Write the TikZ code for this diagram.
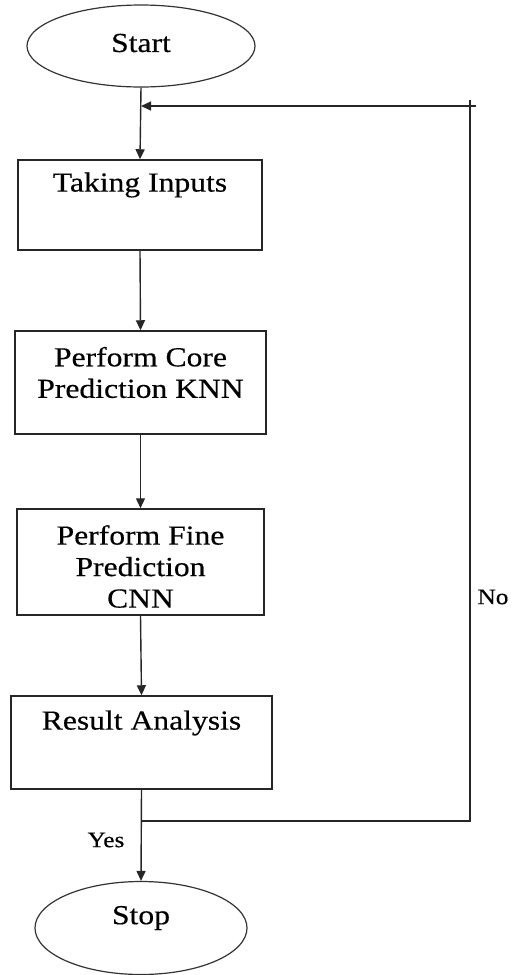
\documentclass[tikz,border=0pt]{standalone}
\usepackage{fontspec}
\setmainfont{Liberation Serif}[FakeStretch=1.15,FakeBold=0.4]
\usetikzlibrary{shapes.geometric,arrows.meta}
\tikzset{
  x=1pt, y=-1pt,
  line/.style={draw=black!85, line width=1.4pt},
  arr/.style={line, -{Triangle[length=10pt,width=9pt]}},
  box/.style={draw=black!85, line width=1.5pt, rectangle, inner sep=0pt},
  oval/.style={draw=black!80, line width=1.2pt, ellipse, inner sep=0pt},
  txt/.style={font=\fontsize{27.5}{31.5}\selectfont, align=center, inner sep=0pt},
  small/.style={font=\fontsize{22}{24}\selectfont, inner sep=0pt}
}
\begin{document}
\begin{tikzpicture}
\useasboundingbox (0,0) rectangle (512,975);
% nodes
\node[oval, minimum width=228pt, minimum height=82pt] (start) at (141,46) {};
\node[txt] (startT) at (141,43) {Start};
\node[box, minimum width=244pt, minimum height=90pt] (take) at (140,205) {};
\node[txt] (takeT) at (140,185) {Taking Inputs};
\node[box, minimum width=251pt, minimum height=103pt] (core) at (140.5,382.5) {};
\node[txt] (coreT) at (140.5,372.5) {Perform Core\\Prediction KNN};
\node[box, minimum width=247pt, minimum height=106pt] (fine) at (140.5,562) {};
\node[txt] (fineT) at (140.5,566.5) {Perform Fine\\Prediction\\CNN};
\node[box, minimum width=261pt, minimum height=93pt] (result) at (141.5,742.5) {};
\node[txt] (resultT) at (141.5,723) {Result Analysis};
\node[oval, minimum width=212pt, minimum height=93pt] (stop) at (141,928) {};
\node[txt] (stopT) at (141,918) {Stop};
\node[small] (yes) at (106,840) {Yes};
\node[small] (no) at (493,597) {No};
% coordinates for feedback loop
\coordinate (ja) at (141,106);
\coordinate (jb) at (141,821);
\coordinate (br) at (470,821);
\coordinate (tr) at (470,100);
\coordinate (te) at (476,106);
% connectors
\draw[arr] (start.south) -- (take.north);
\draw[arr] (take.south) -- (core.north);
\draw[arr] (core.south) -- (fine.north);
\draw[arr] (fine.south) -- (result.north);
\draw[arr] (result.south) -- (stop.north);
\draw[line] (jb) -- (br) -- (tr);
\draw[arr] (te) -- (ja);
\end{tikzpicture}
\end{document}
